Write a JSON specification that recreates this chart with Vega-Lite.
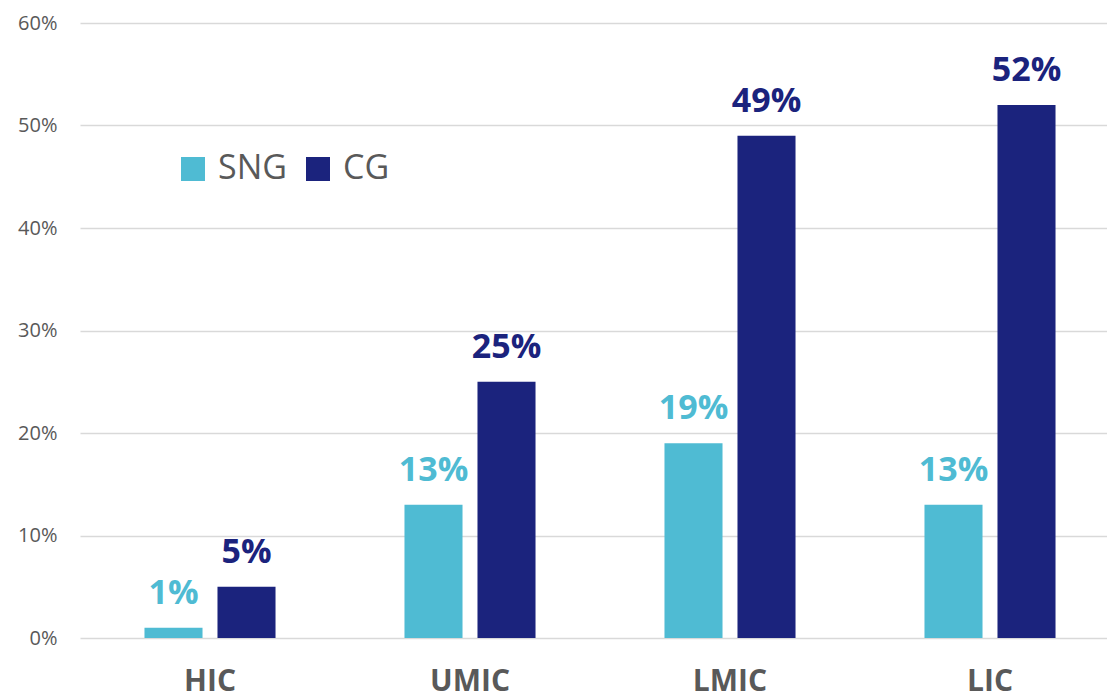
{
  "$schema": "https://vega.github.io/schema/vega-lite/v6.json",
  "width": 1027,
  "height": 615,
  "autosize": "none",
  "padding": {"left": 80, "top": 23, "right": 0, "bottom": 61},
  "background": "white",
  "config": {
    "view": {"stroke": null},
    "font": "Open Sans"
  },
  "data": {
    "values": [
      {"group": "HIC", "series": "SNG", "value": 0.01},
      {"group": "HIC", "series": "CG", "value": 0.05},
      {"group": "UMIC", "series": "SNG", "value": 0.13},
      {"group": "UMIC", "series": "CG", "value": 0.25},
      {"group": "LMIC", "series": "SNG", "value": 0.19},
      {"group": "LMIC", "series": "CG", "value": 0.49},
      {"group": "LIC", "series": "SNG", "value": 0.13},
      {"group": "LIC", "series": "CG", "value": 0.52}
    ]
  },
  "encoding": {
    "x": {
      "field": "group",
      "type": "nominal",
      "sort": ["HIC", "UMIC", "LMIC", "LIC"],
      "scale": {"range": [0, 1040], "paddingInner": 0.496, "paddingOuter": 0.248},
      "axis": {
        "title": null,
        "domain": false,
        "ticks": false,
        "grid": false,
        "labelAngle": 0,
        "labelFontSize": 30,
        "labelFontWeight": "bold",
        "labelColor": "#595959",
        "labelBaseline": "alphabetic",
        "labelPadding": 52
      }
    },
    "xOffset": {
      "field": "series",
      "type": "nominal",
      "sort": ["SNG", "CG"],
      "scale": {"paddingInner": 0.205, "paddingOuter": 0}
    },
    "y": {
      "field": "value",
      "type": "quantitative",
      "scale": {"domain": [0, 0.6], "nice": false},
      "axis": {
        "title": null,
        "values": [0, 0.1, 0.2, 0.3, 0.4, 0.5, 0.6],
        "format": ".0%",
        "domain": false,
        "ticks": false,
        "grid": true,
        "gridColor": "#d9d9d9",
        "gridWidth": 1.5,
        "labelFontSize": 20,
        "labelColor": "#595959",
        "labelPadding": 23
      }
    }
  },
  "layer": [
    {
      "mark": {"type": "bar"},
      "encoding": {
        "color": {
          "field": "series",
          "type": "nominal",
          "sort": ["SNG", "CG"],
          "scale": {"domain": ["SNG", "CG"], "range": ["#4fbbd3", "#1b237d"]},
          "legend": {
            "title": null,
            "orient": "none",
            "direction": "horizontal",
            "legendX": 96,
            "legendY": 129,
            "padding": 0,
            "symbolType": "square",
            "symbolSize": 576,
            "symbolStrokeWidth": 0,
            "symbolOpacity": 1,
            "labelFontSize": 34,
            "labelColor": "#595959",
            "labelOffset": 8,
            "columnPadding": 14
          }
        }
      }
    },
    {
      "mark": {"type": "text", "dy": -24, "baseline": "alphabetic", "fontSize": 34, "fontWeight": "bold"},
      "encoding": {
        "text": {"field": "value", "type": "quantitative", "format": ".0%"},
        "color": {
          "field": "series",
          "type": "nominal",
          "sort": ["SNG", "CG"],
          "scale": {"domain": ["SNG", "CG"], "range": ["#4fbbd3", "#1b237d"]},
          "legend": null
        }
      }
    }
  ]
}
